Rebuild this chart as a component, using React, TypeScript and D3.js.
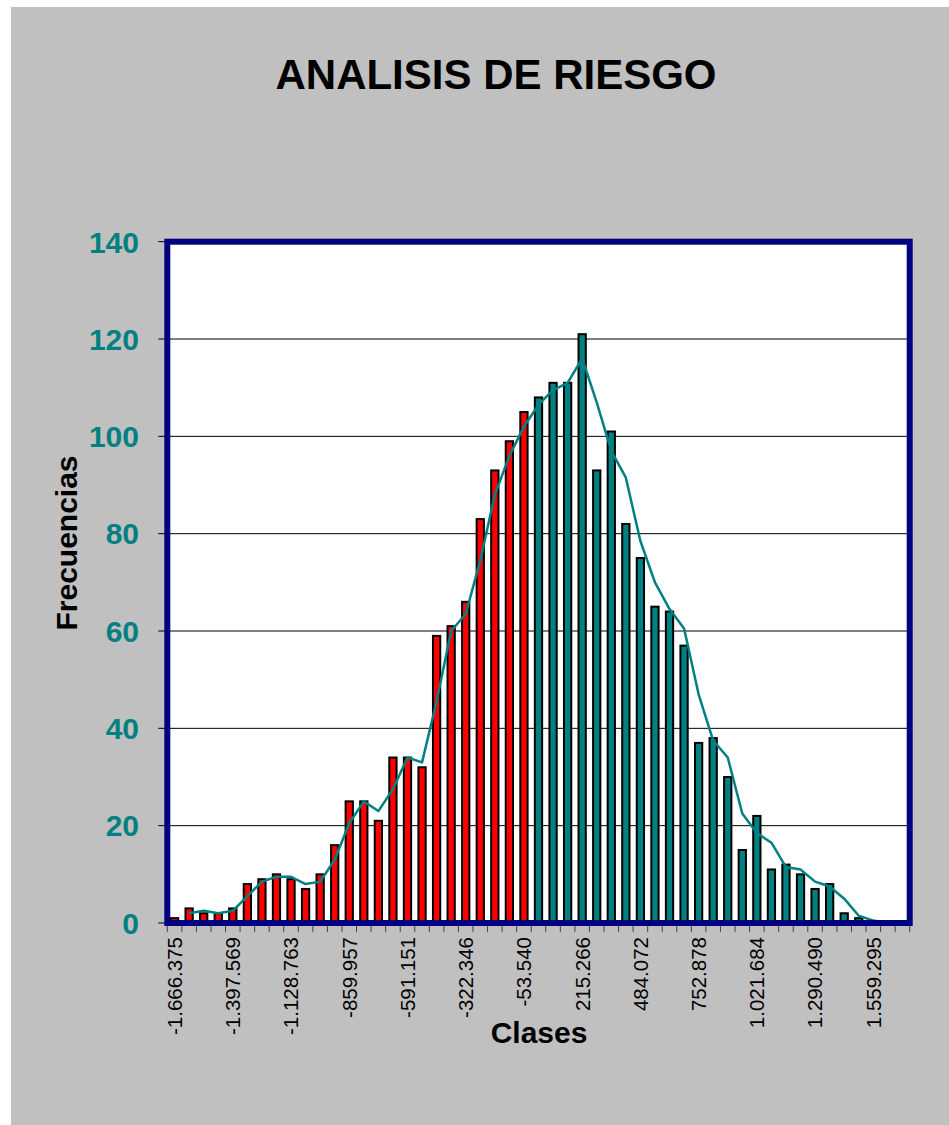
import React from "react";
import * as d3 from "d3";

const W = 949;
const H = 1125;

// Class tick labels (every 4th class)
const tickLabels = [
  "-1.666.375", "-1.397.569", "-1.128.763", "-859.957", "-591.151", "-322.346",
  "-53.540", "215.266", "484.072", "752.878", "1.021.684", "1.290.490", "1.559.295",
];

// Frequencies for the 51 classes
const frequencies = [
  1, 3, 2, 2, 3, 8, 9, 10, 9, 7,
  10, 16, 25, 25, 21, 34, 34, 32, 59, 61,
  66, 83, 93, 99, 105, 108, 111, 111, 121, 93,
  101, 82, 75, 65, 64, 57, 37, 38, 30, 15,
  22, 11, 12, 10, 7, 8, 2, 1, 0, 0,
  0,
];

// Number of classes with negative values (drawn red)
const negativeCount = 25;

// Moving-average trend line (2 periods), starting at class index 1
const trend = [
  2, 2.5, 2, 2.5, 5.5, 8.5, 9.5, 9.5, 8, 8.5,
  13, 20.5, 25, 23, 27.5, 34, 33, 45.5, 60, 63.5,
  74.5, 88, 96, 102, 106.5, 109.5, 111, 116, 107, 97,
  91.5, 78.5, 70, 64.5, 60.5, 47, 37.5, 34, 22.5, 18.5,
  16.5, 11.5, 11, 8.5, 7.5, 5, 1.5, 0.5, 0, 0,
];

const yTicks = [0, 20, 40, 60, 80, 100, 120, 140];

const FONT = "'Liberation Sans', Arial, Helvetica, sans-serif";
const TEAL = "#008080";
const NAVY = "#000080";

export default function App() {
  const left = 167.3;
  const right = 909.7;
  const top = 241.7;
  const bottom = 923;

  const idx = frequencies.map((_, i) => i);
  const x = d3.scaleBand<number>().domain(idx).range([left, right]).padding(0);
  const y = d3.scaleLinear().domain([0, 140]).range([bottom, top]);
  const bw = x.bandwidth();
  const barW = bw * 0.5;

  const line = d3
    .line<number>()
    .x((_, i) => (x(i + 1) as number) + bw / 2)
    .y((d) => y(d));

  return (
    <svg
      width={W}
      height={H}
      style={{ position: "absolute", left: 0, top: 0, background: "#ffffff" }}
      fontFamily={FONT}
    >
      <rect x={11} y={7} width={W - 11} height={H - 7} fill="#C0C0C0" />
      <text
        x={496}
        y={89}
        textAnchor="middle"
        fontSize={42}
        fontWeight="bold"
        fill="#000"
      >
        ANALISIS DE RIESGO
      </text>

      <rect x={left} y={top} width={right - left} height={bottom - top} fill="#fff" />

      {yTicks.map((t) => (
        <g key={t}>
          {t > 0 && t < 140 && (
            <line x1={left} x2={right} y1={y(t)} y2={y(t)} stroke="#000" strokeWidth={1} />
          )}
          <line x1={left - 9} x2={left} y1={y(t)} y2={y(t)} stroke="#000" strokeWidth={1} />
          <text
            x={139}
            y={y(t)}
            dy="0.36em"
            textAnchor="end"
            fontSize={30}
            fontWeight="bold"
            fill={TEAL}
          >
            {t}
          </text>
        </g>
      ))}

      {frequencies.map((v, i) => {
        const cx = (x(i) as number) + bw / 2;
        return (
          <rect
            key={i}
            x={cx - barW / 2}
            y={y(v)}
            width={barW}
            height={y(0) - y(v)}
            fill={i < negativeCount ? "#FF0000" : TEAL}
            stroke="#000"
            strokeWidth={2}
          />
        );
      })}

      <path d={line(trend) || ""} fill="none" stroke={TEAL} strokeWidth={2.5} strokeLinejoin="round" />

      <rect
        x={left}
        y={top}
        width={right - left}
        height={bottom - top}
        fill="none"
        stroke={NAVY}
        strokeWidth={6}
      />

      {d3.range(frequencies.length + 1).map((i) => {
        const xx = left + i * bw;
        return <line key={i} x1={xx} x2={xx} y1={bottom + 3} y2={bottom + 9} stroke="#444" strokeWidth={1} />;
      })}

      {tickLabels.map((lab, k) => {
        const i = k * 4;
        const cx = (x(i) as number) + bw / 2;
        return (
          <text
            key={lab}
            transform={`translate(${cx},937) rotate(-90)`}
            textAnchor="end"
            dy="0.36em"
            fontSize={20.5}
            fill="#000"
          >
            {lab}
          </text>
        );
      })}

      <text
        transform="translate(77,543) rotate(-90)"
        textAnchor="middle"
        fontSize={30}
        fontWeight="bold"
        fill="#000"
      >
        Frecuencias
      </text>
      <text x={539} y={1043} textAnchor="middle" fontSize={30} fontWeight="bold" fill="#000">
        Clases
      </text>
    </svg>
  );
}
